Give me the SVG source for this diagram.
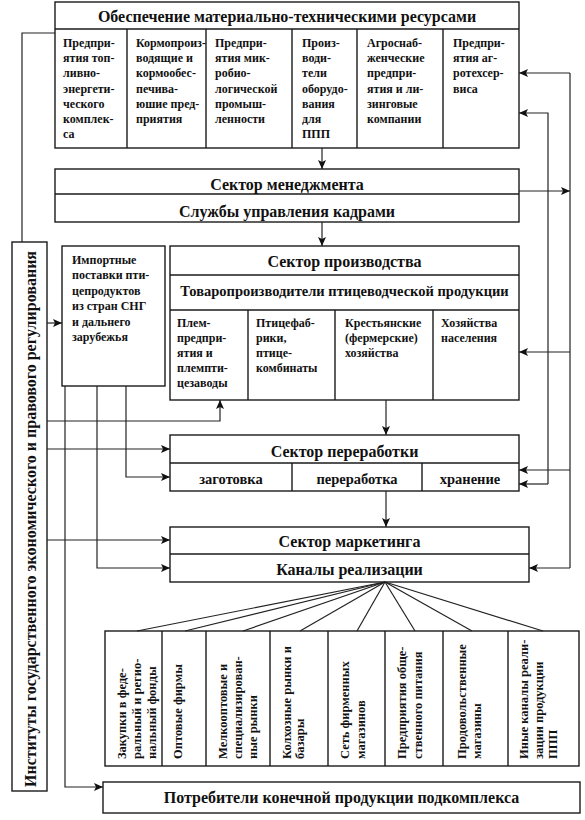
<svg xmlns="http://www.w3.org/2000/svg" width="585" height="820" viewBox="0 0 585 820">
<style>
.b{fill:#fff;stroke:#1a1a1a;stroke-width:1.4}
.d{fill:none;stroke:#1a1a1a;stroke-width:1.4}
.c{fill:none;stroke:#222;stroke-width:1.2}
text{font-family:'Liberation Serif','Times New Roman',serif;font-weight:bold;fill:#111}
.h{font-size:16px;text-anchor:middle}
.s{font-size:14.5px;text-anchor:middle}
.t{font-size:12px}
.v{font-size:12.5px}
</style>
<defs>
<marker id="ar" markerUnits="userSpaceOnUse" markerWidth="10" markerHeight="10" refX="9" refY="4" orient="auto">
<path d="M0,0 L9,4 L0,8 L2,4 z" fill="#111"/>
</marker>
</defs>

<g id="resources">
<rect class="b" x="55" y="2" width="464" height="146"/>
<line class="d" x1="55" y1="29" x2="519" y2="29"/>
<line class="d" x1="127" y1="29" x2="127" y2="148"/>
<line class="d" x1="206" y1="29" x2="206" y2="148"/>
<line class="d" x1="292" y1="29" x2="292" y2="148"/>
<line class="d" x1="357" y1="29" x2="357" y2="148"/>
<line class="d" x1="443" y1="29" x2="443" y2="148"/>
<text class="h" x="287" y="22" font-size="15.3">Обеспечение материально-техническими ресурсами</text>
<text class="t"><tspan x="63" y="47">Предпри-</tspan><tspan x="63" y="62.2">ятия топ-</tspan><tspan x="63" y="77.4">ливно-</tspan><tspan x="63" y="92.6">энергети-</tspan><tspan x="63" y="107.8">ческого</tspan><tspan x="63" y="123">комплек-</tspan><tspan x="63" y="138.2">са</tspan></text>
<text class="t"><tspan x="136" y="47">Кормопроиз-</tspan><tspan x="136" y="62.2">водящие и</tspan><tspan x="136" y="77.4">кормообес-</tspan><tspan x="136" y="92.6">печива-</tspan><tspan x="136" y="107.8">юшие пред-</tspan><tspan x="136" y="123">приятия</tspan></text>
<text class="t"><tspan x="215" y="47">Предпри-</tspan><tspan x="215" y="62.2">ятия мик-</tspan><tspan x="215" y="77.4">робио-</tspan><tspan x="215" y="92.6">логической</tspan><tspan x="215" y="107.8">промыш-</tspan><tspan x="215" y="123">ленности</tspan></text>
<text class="t"><tspan x="302" y="47">Произ-</tspan><tspan x="302" y="62.2">води-</tspan><tspan x="302" y="77.4">тели</tspan><tspan x="302" y="92.6">оборудо-</tspan><tspan x="302" y="107.8">вания</tspan><tspan x="302" y="123">для</tspan><tspan x="302" y="138.2">ППП</tspan></text>
<text class="t"><tspan x="367" y="47">Агроснаб-</tspan><tspan x="367" y="62.2">женческие</tspan><tspan x="367" y="77.4">предпри-</tspan><tspan x="367" y="92.6">ятия и ли-</tspan><tspan x="367" y="107.8">зинговые</tspan><tspan x="367" y="123">компании</tspan></text>
<text class="t"><tspan x="453" y="47">Предпри-</tspan><tspan x="453" y="62.2">ятия аг-</tspan><tspan x="453" y="77.4">ротехсер-</tspan><tspan x="453" y="92.6">виса</tspan></text>
</g>

<g id="management">
<rect class="b" x="55" y="169" width="464" height="53"/>
<line class="d" x1="55" y1="194" x2="519" y2="194"/>
<text class="h" x="287" y="190" font-size="16.5">Сектор менеджмента</text>
<text class="h" x="287" y="217" font-size="16.5">Службы управления кадрами</text>
</g>

<g id="production">
<rect class="b" x="170" y="246" width="349" height="154"/>
<line class="d" x1="170" y1="275" x2="519" y2="275"/>
<line class="d" x1="170" y1="310" x2="519" y2="310"/>
<line class="d" x1="248" y1="310" x2="248" y2="400"/>
<line class="d" x1="335" y1="310" x2="335" y2="400"/>
<line class="d" x1="433" y1="310" x2="433" y2="400"/>
<text class="h" x="344.5" y="267">Сектор производства</text>
<text class="s" x="344.5" y="296">Товаропроизводители птицеводческой продукции</text>
<text class="t"><tspan x="177" y="327">Плем-</tspan><tspan x="177" y="342">предпри-</tspan><tspan x="177" y="357">ятия и</tspan><tspan x="177" y="372">племпти-</tspan><tspan x="177" y="387">цезаводы</tspan></text>
<text class="t"><tspan x="256" y="327">Птицефаб-</tspan><tspan x="256" y="342">рики,</tspan><tspan x="256" y="357">птице-</tspan><tspan x="256" y="372">комбинаты</tspan></text>
<text class="t"><tspan x="345" y="327">Крестьянские</tspan><tspan x="345" y="342">(фермерские)</tspan><tspan x="345" y="357">хозяйства</tspan></text>
<text class="t"><tspan x="441" y="327">Хозяйства</tspan><tspan x="441" y="342">населения</tspan></text>
</g>

<g id="import">
<rect class="b" x="62" y="246" width="103" height="140"/>
<text class="t"><tspan x="72" y="264">Импортные</tspan><tspan x="72" y="279.4">поставки пти-</tspan><tspan x="72" y="294.8">цепродуктов</tspan><tspan x="72" y="310.2">из стран СНГ</tspan><tspan x="72" y="325.6">и дальнего</tspan><tspan x="72" y="341">зарубежья</tspan></text>
</g>

<g id="processing">
<rect class="b" x="170" y="435" width="349" height="56"/>
<line class="d" x1="170" y1="463" x2="519" y2="463"/>
<line class="d" x1="292" y1="463" x2="292" y2="491"/>
<line class="d" x1="422" y1="463" x2="422" y2="491"/>
<text class="h" x="344.5" y="457">Сектор переработки</text>
<text class="s" x="231" y="484" font-size="15">заготовка</text>
<text class="s" x="357" y="484" font-size="15">переработка</text>
<text class="s" x="470" y="484" font-size="15">хранение</text>
</g>

<g id="marketing">
<rect class="b" x="170" y="527" width="359" height="55"/>
<line class="d" x1="170" y1="554" x2="529" y2="554"/>
<text class="h" x="349.5" y="547" font-size="15.5">Сектор маркетинга</text>
<text class="h" x="349.5" y="575" font-size="15.5">Каналы реализации</text>
</g>

<g id="state">
<rect class="b" x="12" y="242" width="35" height="549"/>
<text class="h" transform="translate(36,519) rotate(-90)" font-size="14.6">Институты государственного экономического и правового регулирования</text>
</g>

<g id="channels">
<rect class="b" x="105" y="631" width="474" height="135"/>
<line class="d" x1="162" y1="631" x2="162" y2="766"/>
<line class="d" x1="206" y1="631" x2="206" y2="766"/>
<line class="d" x1="270" y1="631" x2="270" y2="766"/>
<line class="d" x1="328" y1="631" x2="328" y2="766"/>
<line class="d" x1="385" y1="631" x2="385" y2="766"/>
<line class="d" x1="443" y1="631" x2="443" y2="766"/>
<line class="d" x1="508" y1="631" x2="508" y2="766"/>
<text class="v" transform="translate(126,759) rotate(-90)"><tspan x="0" y="0">Закупки в феде-</tspan><tspan x="0" y="15">ральный и регио-</tspan><tspan x="0" y="30">нальный фонды</tspan></text>
<text class="v" transform="translate(182,759) rotate(-90)">Оптовые фирмы</text>
<text class="v" transform="translate(227,759) rotate(-90)"><tspan x="0" y="0">Мелкооптовые и</tspan><tspan x="0" y="15">специализирован-</tspan><tspan x="0" y="30">ные рынки</tspan></text>
<text class="v" transform="translate(291,759) rotate(-90)"><tspan x="0" y="0">Колхозные рынки и</tspan><tspan x="0" y="12.5">базары</tspan></text>
<text class="v" transform="translate(349,759) rotate(-90)"><tspan x="0" y="0">Сеть фирменных</tspan><tspan x="0" y="16">магазинов</tspan></text>
<text class="v" transform="translate(406,759) rotate(-90)"><tspan x="0" y="0">Предприятия обще-</tspan><tspan x="0" y="16">ственного питания</tspan></text>
<text class="v" transform="translate(466,759) rotate(-90)"><tspan x="0" y="0">Продовольственные</tspan><tspan x="0" y="15">магазины</tspan></text>
<text class="v" transform="translate(528,759) rotate(-90)"><tspan x="0" y="0">Иные каналы реали-</tspan><tspan x="0" y="15">зации продукции</tspan><tspan x="0" y="29">ППП</tspan></text>
</g>

<g id="consumers">
<rect class="b" x="103" y="782" width="477" height="31"/>
<text class="h" x="341.5" y="803" font-size="15.5">Потребители конечной продукции подкомплекса</text>
</g>

<g id="connectors">
<line class="c" x1="322" y1="148" x2="322" y2="169" marker-end="url(#ar)"/>
<line class="c" x1="322" y1="222" x2="322" y2="246" marker-end="url(#ar)"/>
<line class="c" x1="386" y1="400" x2="386" y2="435" marker-end="url(#ar)"/>
<line class="c" x1="386" y1="491" x2="386" y2="527" marker-end="url(#ar)"/>
<polyline class="c" points="22,242 22,33 55,33"/>
<line class="c" x1="47" y1="323" x2="62" y2="323" marker-end="url(#ar)"/>
<polyline class="c" points="47,421 220,421 220,400" marker-end="url(#ar)"/>
<line class="c" x1="47" y1="449" x2="170" y2="449" marker-end="url(#ar)"/>
<line class="c" x1="47" y1="540" x2="170" y2="540" marker-end="url(#ar)"/>
<polyline class="c" points="126,386 126,477 170,477" marker-end="url(#ar)"/>
<polyline class="c" points="97,386 97,568 170,568" marker-end="url(#ar)"/>
<polyline class="c" points="65,386 65,787 103,787" marker-end="url(#ar)"/>
<line class="c" x1="519" y1="191" x2="570" y2="191" marker-end="url(#ar)"/>
<line class="c" x1="570" y1="73" x2="570" y2="568"/>
<line class="c" x1="570" y1="73" x2="519" y2="73" marker-end="url(#ar)"/>
<line class="c" x1="570" y1="352" x2="519" y2="352" marker-end="url(#ar)"/>
<line class="c" x1="570" y1="470" x2="519" y2="470" marker-end="url(#ar)"/>
<line class="c" x1="570" y1="568" x2="529" y2="568" marker-end="url(#ar)"/>
<polyline class="c" points="548,484 548,113 519,113" marker-end="url(#ar)"/>
<line class="c" x1="548" y1="484" x2="519" y2="484" marker-end="url(#ar)"/>
<line class="c" x1="385" y1="582" x2="137" y2="631"/>
<line class="c" x1="385" y1="582" x2="185" y2="631"/>
<line class="c" x1="385" y1="582" x2="243" y2="631"/>
<line class="c" x1="385" y1="582" x2="300" y2="631"/>
<line class="c" x1="385" y1="582" x2="357" y2="631"/>
<line class="c" x1="385" y1="582" x2="415" y2="631"/>
<line class="c" x1="385" y1="582" x2="472" y2="631"/>
<line class="c" x1="385" y1="582" x2="543" y2="631"/>
</g>
</svg>
